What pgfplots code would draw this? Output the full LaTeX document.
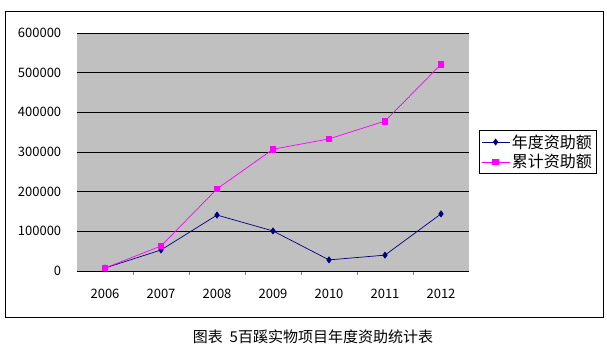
\documentclass[border=0pt]{standalone}
\usepackage{fontspec}
\setmainfont{Noto Sans CJK SC}
\usepackage{pgfplots}
\pgfplotsset{compat=1.18}
\definecolor{plotgray}{RGB}{192,192,192}
\definecolor{navyline}{RGB}{0,0,128}
\definecolor{pinkline}{RGB}{255,0,255}
\begin{document}
\begin{tikzpicture}[x=1pt,y=1pt]
\path[use as bounding box] (0,0) rectangle (607,361);
\draw[line width=0.8pt] (5,44) rectangle (603,350);
\begin{axis}[
  at={(77pt,90pt)}, anchor=south west,
  width=392pt, height=238pt, scale only axis,
  xmin=-0.5, xmax=6.5, ymin=0, ymax=600000,
  xtick={0,...,6},
  xticklabels={2006,2007,2008,2009,2010,2011,2012},
  major x tick style={draw=none},
  minor xtick={0.5,1.5,2.5,3.5,4.5,5.5},
  minor tick length=4pt,
  tick align=outside,
  ytick={0,100000,...,600000},
  major y tick style={draw=none},
  scaled y ticks=false,
  /pgf/number format/assume math mode=true,
  yticklabel={\pgfmathprintnumber[fixed,precision=0,1000 sep={}]{\tick}},
  ymajorgrids,
  grid style={black, line width=0.6pt},
  axis background/.style={fill=plotgray},
  axis x line*=bottom,
  axis y line*=left,
  x axis line style={black, line width=0.6pt, -},
  y axis line style={draw=none},
  tick label style={font=\fontsize{13}{15}\selectfont, text=black},
  yticklabel style={xshift=-8pt},
  xticklabel style={yshift=-10pt},
  legend style={at={(1.0255,0.5)}, anchor=west, draw=black, line width=0.5pt,
    font=\fontsize{16}{20}\selectfont, row sep=1pt, inner sep=2pt},
  legend image code/.code={\draw[mark repeat=2,mark phase=2,#1] plot coordinates {(0pt,0pt) (14pt,0pt) (28pt,0pt)};},
  legend cell align=left,
  clip=false,
]
\addplot[navyline, line width=0.7pt, mark=diamond*, mark size=3pt, mark options={fill=navyline}]
  coordinates {(0,7500) (1,53000) (2,141000) (3,101000) (4,28000) (5,40000) (6,144000)};
\addlegendentry{年度资助额}
\addplot[pinkline, line width=0.7pt, mark=square*, mark size=2.8pt, mark options={fill=pinkline}]
  coordinates {(0,7500) (1,63000) (2,207000) (3,307000) (4,333000) (5,378000) (6,521000)};
\addlegendentry{累计资助额}
\end{axis}
\node[font=\fontsize{15}{17}\selectfont] at (313,24) {图表\ \ 5百蹊实物项目年度资助统计表};
\end{tikzpicture}
\end{document}
